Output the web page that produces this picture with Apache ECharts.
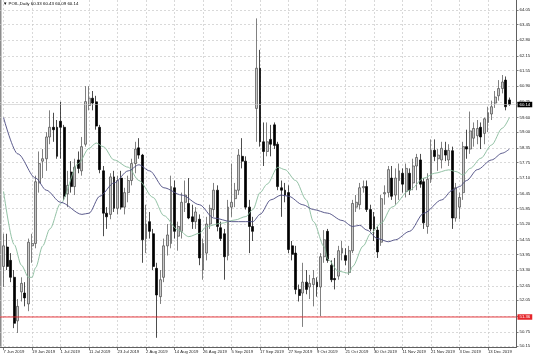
<!DOCTYPE html>
<html><head><meta charset="utf-8">
<script src="https://cdn.jsdelivr.net/npm/echarts@6/dist/echarts.min.js"></script>
<style>html,body{margin:0;padding:0;background:#fff}#c{width:536px;height:357px}</style>
</head><body><div id="c"></div>
<script>
const titleText = '\u25BC POIL,Daily 60.33 60.43 60.09 60.14';
const dateTickLabels = ['7 Jun 2019','19 Jun 2019','1 Jul 2019','11 Jul 2019','23 Jul 2019','2 Aug 2019','14 Aug 2019','26 Aug 2019','5 Sep 2019','17 Sep 2019','27 Sep 2019','9 Oct 2019','21 Oct 2019','30 Oct 2019','11 Nov 2019','21 Nov 2019','3 Dec 2019','13 Dec 2019'];
const priceTickLabels = ['64.05','63.45','62.80','62.15','61.55','60.90','60.25','59.60','59.00','58.35','57.75','57.10','56.45','55.85','55.20','54.55','53.95','53.30','52.65','52.05','51.40','50.75','50.15'];
const open = [
53.45,54.25,53.7,53.0,51.2,52.4,52.35,51.9,54.3,54.4,
56.9,57.8,57.9,58.8,59.2,59.2,59.45,59.2,56.45,57.35,
56.75,57.85,57.4,58.5,60.1,60.4,60.25,59.2,57.4,55.65,
55.6,57.15,55.85,57.1,55.9,56.5,57.0,57.7,58.35,58.05,
54.6,55.3,54.8,53.37,52.2,53.0,54.3,54.4,56.7,54.7,
54.9,56.1,56.05,55.5,55.3,55.4,53.3,54.0,55.2,55.8,
56.6,55.05,54.8,53.9,55.9,56.25,56.6,58.0,57.8,55.9,
55.1,59.98,61.64,58.6,58.2,58.7,59.3,58.5,56.7,56.6,
56.5,54.3,54.0,52.5,52.35,52.8,52.6,52.7,52.8,52.6,
53.85,54.9,53.5,52.95,53.05,54.0,53.9,53.2,54.1,55.9,
56.0,56.7,56.75,55.8,55.5,54.95,54.45,56.45,56.5,57.1,
56.4,57.0,57.3,56.55,57.3,56.9,57.6,57.85,56.95,55.1,
57.05,58.25,57.9,57.85,58.25,57.85,58.23,55.45,55.9,56.5,
58.4,58.3,58.75,58.85,59.2,58.95,59.4,59.75,60.2,60.5,
60.8,61.15,60.33];
const high = [
54.8,54.8,54.0,53.3,52.1,53.0,52.8,54.6,54.8,57.2,
58.2,58.3,59.0,59.9,59.8,59.5,60.25,59.3,57.4,57.8,
57.9,58.2,58.8,60.9,60.9,60.7,60.5,59.3,57.6,55.9,
57.3,57.4,57.2,57.4,56.7,57.2,57.9,58.6,58.75,58.1,
56.0,55.7,55.0,53.6,53.3,54.6,55.2,57.2,57.0,55.3,
56.5,57.0,57.1,56.0,55.9,55.6,54.6,55.5,56.0,56.9,
56.8,55.3,55.0,56.2,57.7,56.9,58.3,58.75,58.0,56.2,
55.5,63.7,62.4,59.4,59.4,59.3,59.4,58.6,57.0,56.9,
56.8,54.5,54.3,52.7,53.6,53.3,53.1,53.3,53.0,54.0,
54.95,55.0,53.7,53.8,54.3,54.5,54.2,54.3,56.2,56.4,
56.9,57.0,57.0,56.0,55.7,55.1,56.4,56.8,57.6,57.6,
57.5,57.7,57.5,57.7,57.5,57.9,58.1,58.1,57.1,57.3,
58.7,58.7,58.3,58.6,58.6,58.5,58.4,56.9,56.5,58.6,
59.1,59.85,59.4,59.5,59.4,59.6,60.05,60.3,60.7,61.15,
61.36,61.3,60.43];
const low = [
52.6,53.3,52.8,50.9,50.7,52.0,51.8,51.6,53.6,54.2,
56.5,57.1,57.4,58.5,58.6,57.9,57.9,56.2,55.9,56.5,
56.4,57.3,57.2,58.4,59.9,59.9,59.1,57.3,54.7,55.0,
55.4,55.7,55.6,55.8,55.6,56.1,56.8,57.3,57.9,53.6,
54.0,54.6,53.3,50.5,51.9,52.8,53.9,54.2,54.6,54.1,
54.6,55.7,55.4,55.0,55.0,53.5,52.9,53.7,55.0,55.5,
54.9,54.5,52.9,53.7,55.5,55.9,56.4,57.5,55.8,54.0,
54.5,58.6,58.4,57.6,58.0,58.0,58.3,56.6,55.5,56.1,
54.0,53.7,52.3,52.0,50.95,52.3,52.1,51.8,52.2,51.4,
53.6,53.6,52.8,52.5,52.9,53.7,53.5,53.1,54.0,55.7,
55.8,56.5,55.7,54.9,54.5,53.8,54.3,56.0,56.3,56.2,
56.0,56.2,56.5,56.3,56.4,56.6,56.6,56.7,55.0,54.8,
56.9,57.8,57.4,57.5,57.8,57.6,55.0,55.3,55.4,56.2,
57.9,58.1,58.4,58.5,58.3,58.5,59.0,59.5,60.0,60.3,
60.6,59.9,60.09];
const close = [
54.3,53.45,53.0,51.1,51.8,52.75,52.15,54.45,54.4,56.95,
57.7,57.9,58.8,59.2,59.1,58.0,59.2,56.35,56.8,56.75,
57.55,57.5,58.4,60.26,60.4,60.2,59.25,57.45,55.65,55.5,
57.15,55.85,57.0,55.9,56.5,57.0,57.7,58.3,58.05,54.55,
55.2,54.9,53.45,52.27,52.9,54.3,54.75,56.75,54.9,55.1,
56.1,56.4,55.45,55.3,55.7,53.8,54.4,55.2,55.85,56.6,
55.1,54.6,53.85,55.9,56.1,56.6,58.05,57.8,55.9,55.1,
54.9,61.64,58.6,58.2,58.6,58.5,58.45,56.75,56.6,56.4,
54.15,53.95,52.5,52.25,52.8,52.5,52.75,52.95,52.6,53.85,
54.55,53.7,52.9,52.9,54.1,54.2,53.7,54.1,56.05,56.1,
56.7,56.75,55.8,55.0,55.0,54.05,56.25,56.5,57.45,56.35,
57.1,57.4,56.85,57.5,56.6,57.6,57.95,56.85,55.25,57.05,
58.25,57.99,58.05,58.33,58.05,58.25,55.45,56.7,56.3,58.4,
58.3,59.05,59.15,59.15,58.8,59.55,59.8,60.05,60.45,60.8,
61.07,60.05,60.14];
// moving averages: [bar index, value]
const maFast = [[0,56.55],[3,54.35],[5,53.5],[7,53.0],[8,53.0],[9,53.4],[11,54.3],[13,55.0],[16,56.05],[21,57.7],[24,58.33],[26,58.55],[28,58.4],[31,57.85],[35,57.55],[38,57.0],[42,56.3],[45,55.55],[49,54.96],[52,54.68],[55,54.82],[57,55.1],[61,55.23],[65,55.37],[68,55.51],[70,55.8],[72,56.5],[74,56.85],[77,57.55],[79,57.45],[82,57.0],[85,56.2],[87,55.3],[90,54.27],[91,53.75],[94,53.25],[97,53.17],[98,53.45],[101,54.3],[103,54.8],[106,55.23],[109,55.9],[114,56.6],[118,57.1],[121,57.3],[125,57.44],[127,57.37],[129,57.23],[131,57.5],[134,57.92],[137,58.47],[140,59.16],[142,59.6]];
const maSlow = [[0,59.6],[4,58.1],[9,57.1],[12,56.6],[16,56.1],[22,55.6],[24,55.65],[27,56.35],[31,56.9],[35,57.4],[38,57.65],[41,57.4],[45,56.7],[50,56.4],[55,56.0],[59,55.45],[64,55.3],[68,55.3],[70,55.3],[72,55.6],[75,56.2],[78,56.4],[80,56.35],[84,56.0],[87,55.8],[91,55.65],[95,55.35],[98,55.1],[100,55.15],[102,54.95],[105,54.6],[108,54.47],[110,54.55],[114,54.9],[118,55.65],[123,56.2],[126,56.6],[128,56.75],[130,57.0],[133,57.45],[137,57.85],[140,58.13],[142,58.3]];
const refLevel = 51.36;
const lastPrice = 60.14;

const FONT = 'Liberation Sans';
const LEAD = 1, TRAIL = 2, N = open.length;
const cats = Array.from({length: N + LEAD + TRAIL}, (_, k) => String(k - LEAD));
const candles = cats.map((_, k) => {
  const b = k - LEAD;
  return (b >= 0 && b < N) ? [open[b], close[b], low[b], high[b]] : ['-', '-', '-', '-'];
});
const isDateTick = (idx, val) => { const b = +val; return b >= 0 && b % 8 === 0 && b / 8 < dateTickLabels.length; };
const yTickVals = priceTickLabels.map(Number);
const yLabelVals = priceTickLabels.filter(s => s !== '51.40').map(Number);
const gridLine = {color: '#c9c9c9', width: 0.7, type: [2, 2]};
const RED = '#e5262b';

// horizontal price level drawn as a line series across the whole plot, with its box label at the axis
function priceLevel(value, lineColor, boxColor, lineWidth) {
  return {
    type: 'line', data: [[0, value], [cats.length - 1, value]], showSymbol: false, silent: true, z: 4,
    lineStyle: {color: lineColor, width: lineWidth, type: 'solid'}, itemStyle: {color: lineColor},
    emphasis: {disabled: true},
    endLabel: {show: true, distance: 1, formatter: () => value.toFixed(2), color: '#fff',
      backgroundColor: boxColor, padding: [1, 2, 0.5, 2], fontSize: 4.3, fontFamily: FONT}
  };
}

const chart = echarts.init(document.getElementById('c'), null, {renderer: 'canvas'});
chart.setOption({
  animation: false,
  backgroundColor: '#ffffff',
  title: {text: titleText, left: 3, top: 2, padding: 0,
    textStyle: {fontSize: 4.4, fontWeight: 'normal', color: '#000', fontFamily: FONT}},
  grid: {left: -1.5, right: 19.5, top: 0, bottom: 10},
  xAxis: {
    type: 'category', data: cats, boundaryGap: false,
    axisLine: {show: true, lineStyle: {color: '#606060', width: 1}},
    axisTick: {show: true, interval: isDateTick, length: 3, lineStyle: {color: '#606060', width: 0.8}},
    axisLabel: {interval: isDateTick, align: 'left', margin: 3, fontSize: 4.2, color: '#222', fontFamily: FONT,
      formatter: v => { const b = +v; return (b >= 0 && b % 8 === 0) ? (dateTickLabels[b / 8] || '') : ''; }},
    splitLine: {show: true, interval: isDateTick, lineStyle: gridLine}
  },
  yAxis: {
    type: 'value', position: 'right', min: 50.12, max: 64.46,
    axisLine: {show: true, lineStyle: {color: '#606060', width: 1}},
    axisTick: {show: true, customValues: yTickVals, length: 2, lineStyle: {color: '#606060', width: 0.8}},
    axisLabel: {customValues: yLabelVals, formatter: v => v.toFixed(2), fontSize: 4.3, color: '#222', margin: 3, fontFamily: FONT},
    splitLine: {show: true, lineStyle: gridLine}
  },
  graphic: [{type: 'rect', shape: {x: 0, y: 0, width: 1.5, height: 347}, style: {fill: '#8c8c8c'}, silent: true}],
  series: [
    priceLevel(lastPrice, '#c4c4c4', '#000000', 0.6),
    {
      type: 'candlestick', data: candles, barWidth: 2.4,
      itemStyle: {color: '#c9c9c9', color0: '#000000', borderColor: '#4a4a4a', borderColor0: '#000000', borderWidth: 0.7}
    },
    {type: 'line', data: maFast.map(([b, v]) => [b + LEAD, v]), showSymbol: false, smooth: 0.3, smoothMonotone: 'x',
     lineStyle: {color: '#88bb9c', width: 0.9}, itemStyle: {color: '#88bb9c'}, z: 3},
    {type: 'line', data: maSlow.map(([b, v]) => [b + LEAD, v]), showSymbol: false, smooth: 0.3, smoothMonotone: 'x',
     lineStyle: {color: '#4a4a80', width: 0.9}, itemStyle: {color: '#4a4a80'}, z: 3},
    priceLevel(refLevel, RED, RED, 0.9)
  ]
});
</script>
</body></html>
